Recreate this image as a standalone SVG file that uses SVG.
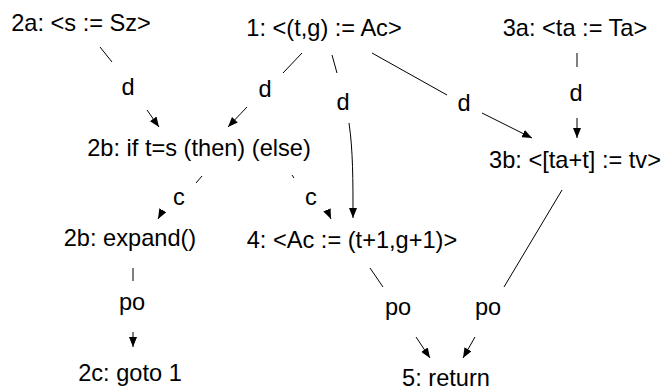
<svg xmlns="http://www.w3.org/2000/svg" width="664" height="392" viewBox="0 0 664 392">
<defs>
<style>
text{font-family:"Liberation Sans",Arial,Helvetica,sans-serif;font-size:23.6px;fill:#000;text-anchor:middle}
.e{fill:none;stroke:#000;stroke-width:1}
.a{marker-end:url(#ah)}
</style>
<marker id="ah" viewBox="0 0 10 8" refX="10" refY="4" markerWidth="10" markerHeight="8" markerUnits="userSpaceOnUse" orient="auto">
<path d="M0,0 L10,4 L0,8 Z" fill="#000"/>
</marker>
</defs>
<rect width="664" height="392" fill="#fff"/>
<g id="connectors">
<path class="e" d="M100,47 L112,62"/>
<path class="e a" d="M147,110 L159,127"/>
<path class="e" d="M302,53 L283,73"/>
<path class="e a" d="M247,107 L228,127"/>
<path class="e" d="M332,55 L337,73"/>
<path class="e a" d="M349,123 C353,150 353,180 353,218"/>
<path class="e" d="M372,53 L447,95"/>
<path class="e a" d="M482,113 L532,138"/>
<path class="e" d="M577,53 L577,67"/>
<path class="e a" d="M577,118 L577,138"/>
<path class="e" d="M202,176 L196,183"/>
<path class="e a" d="M163,210 L158,219"/>
<path class="e" d="M292,175 L294,178"/>
<path class="e a" d="M327,210 L331,219"/>
<path class="e" d="M133,268 L133,281"/>
<path class="e a" d="M133,332 L133,347"/>
<path class="e" d="M370,268 L383,287"/>
<path class="e a" d="M416,337 L430,358"/>
<path class="e" d="M562,190 L504,287"/>
<path class="e a" d="M475,337 L463,358"/>
<text x="128" y="95">d</text>
<text x="265" y="97">d</text>
<text x="343" y="110">d</text>
<text x="464" y="111">d</text>
<text x="576" y="101">d</text>
<text x="179" y="205">c</text>
<text x="311" y="205">c</text>
<text x="132" y="310">po</text>
<text x="398" y="315">po</text>
<text x="488" y="315">po</text>
</g>
<g id="n2a"><text x="81" y="31">2a: &lt;s := Sz&gt;</text></g>
<g id="n1"><text x="324" y="36">1: &lt;(t,g) := Ac&gt;</text></g>
<g id="n3a"><text x="575" y="36">3a: &lt;ta := Ta&gt;</text></g>
<g id="n2b"><text x="199" y="156">2b: if t=s (then) (else)</text></g>
<g id="n3b"><text x="575" y="168">3b: &lt;[ta+t] := tv&gt;</text></g>
<g id="n2bx"><text x="130" y="246">2b: expand()</text></g>
<g id="n4"><text x="352" y="248">4: &lt;Ac := (t+1,g+1)&gt;</text></g>
<g id="n2c"><text x="130" y="381">2c: goto 1</text></g>
<g id="n5"><text x="446" y="386">5: return</text></g>
</svg>
